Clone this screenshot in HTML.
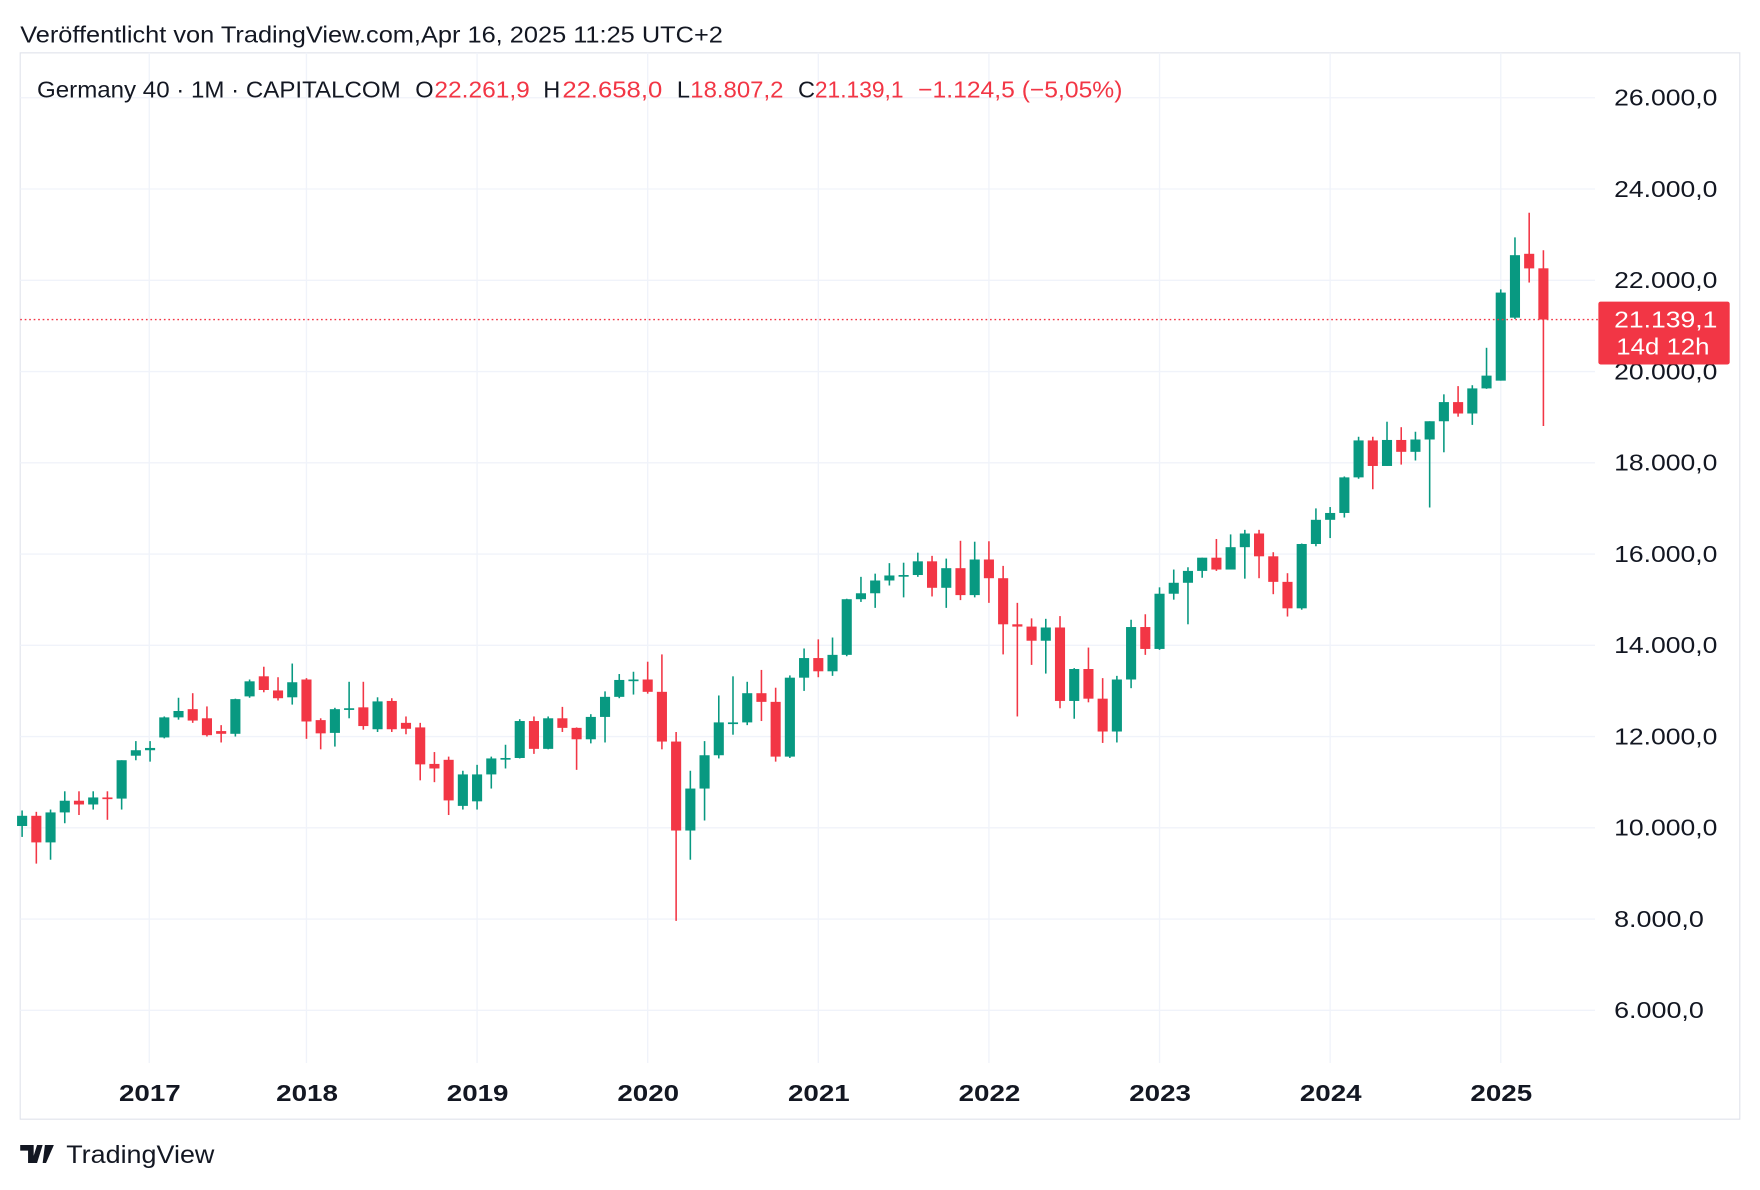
<!DOCTYPE html>
<html><head><meta charset="utf-8"><style>
html,body{margin:0;padding:0;background:#fff;}
svg{display:block;font-family:"Liberation Sans",sans-serif;}
</style></head><body>
<svg id="chart" width="1760" height="1190" viewBox="0 0 1568 1060" xmlns="http://www.w3.org/2000/svg">
<rect x="0" y="0" width="1568" height="1060" fill="#fff"/>
<text x="18" y="38" font-size="21" fill="#131722" textLength="626" lengthAdjust="spacingAndGlyphs">Veröffentlicht von TradingView.com,Apr 16, 2025 11:25 UTC+2</text>
<rect x="18" y="47" width="1532" height="950" fill="none" stroke="#e0e3eb" stroke-width="1"/>
<g id="grid"></g>
<g id="candles"></g>
<g id="yaxis"></g>
<g id="xaxis"></g>
<g font-size="21">
<text x="33" y="87" fill="#131722" textLength="324" lengthAdjust="spacingAndGlyphs">Germany 40 · 1M · CAPITALCOM</text>
<text x="370" y="87" fill="#131722">O</text>
<text x="387" y="87" fill="#f23645" textLength="85" lengthAdjust="spacingAndGlyphs">22.261,9</text>
<text x="484" y="87" fill="#131722">H</text>
<text x="501" y="87" fill="#f23645" textLength="89" lengthAdjust="spacingAndGlyphs">22.658,0</text>
<text x="603" y="87" fill="#131722">L</text>
<text x="615" y="87" fill="#f23645" textLength="83" lengthAdjust="spacingAndGlyphs">18.807,2</text>
<text x="711" y="87" fill="#131722">C</text>
<text x="726" y="87" fill="#f23645" textLength="79" lengthAdjust="spacingAndGlyphs">21.139,1</text>
<text x="818" y="87" fill="#f23645" textLength="182" lengthAdjust="spacingAndGlyphs">−1.124,5 (−5,05%)</text>
</g>
<g>
<path d="M18 1020h12v16h-5v-11h-7z M33 1020h5l-5 16h-5z M40 1020h8l-7 16h-3z" fill="#131722"/>
<text x="59" y="1036" font-size="22" fill="#131722" textLength="132" lengthAdjust="spacingAndGlyphs">TradingView</text>
</g>
</svg>
<script>
const startYear = 2016, startMonth = 4; // May 2016 (0-based month)
const opens  = [10039,10263,9680,10337,10593,10511,10665,10640, 11580,11700,11980,12420,12600,12400,12120,12060,12880,13320,13010,12860, 13250,12360,12080,12600,12640,12160,12780,12300,12200,11400,11490,10480, 10580,11170,11520,11530,12340,11730,12400,12190,11940,12430,12870,13240, 13250,12980,11890,9940,10860,11590,12310,12310,12950,12760,11560,13290, 13720,13430,13790,15010,15140,15420,15530,15540,15840,15260,15690,15100, 15880,15470,14460,14410,14100,14390,12780,13480,12830,12110,13250,14400, 13920,15130,15370,15630,15920,15660,16150,16450,15950,15390,14810,16220, 16750,16900,17680,18490,17930,18500,18240,18510,18910,19330,19080,19630, 19800,21180,22580,22261.9];
const highs  = [10380,10350,10400,10800,10800,10800,10800,11480, 11900,11900,12440,12850,12950,12660,12250,12830,13250,13530,13300,13600, 13280,12400,12630,13200,13200,12860,12840,12440,12300,11660,11560,11250, 11380,11560,11820,12380,12440,12440,12650,12200,12490,12990,13370,13420, 13640,13800,12100,11250,11900,12900,13320,13200,13460,13070,13340,13930, 14130,14170,15020,15500,15570,15800,15810,16030,15960,15900,16290,16270, 16280,15740,14930,14590,14580,14640,13500,13950,13280,13330,14560,14680, 15270,15660,15710,15920,16330,16430,16530,16530,16040,15580,16230,17000, 17030,17700,18570,18570,18900,18780,18680,18910,19500,19680,19700,20520, 21800,22940,23480,22658];
const lows   = [9800,9215,9300,10100,10280,10400,10175,10400, 11480,11450,11960,12370,12300,12000,11870,12000,12850,12970,12790,12700, 11950,11720,11780,12400,12150,12100,12100,12050,11040,11000,10280,10400, 10400,10860,11300,11520,11620,11720,12100,11270,11850,11870,12840,12920, 12940,11720,7960,9300,10160,11520,12040,12250,12340,11450,11530,13000, 13300,13330,13760,14950,14820,15310,15050,15500,15070,14820,14990,15050, 14930,13800,12440,13570,13380,12620,12390,12750,11860,11870,13060,13790, 13900,15000,14460,15480,15630,15700,15460,15470,15120,14630,14780,16170, 16350,16800,17650,17420,17930,17960,18050,17020,18230,19010,18830,19620, 19800,21150,21950,18807.2];
const closes = [10263,9680,10337,10593,10511,10665,10640,11481, 11700,11750,12420,12560,12350,12030,12060,12820,13210,13020,12840,13190, 12330,12070,12600,12620,12230,12770,12160,12170,11390,11300,10600,11170, 11170,11520,11530,12340,11730,12400,12190,11940,12430,12870,13240,13250, 12980,11890,9940,10860,11590,12310,12310,12950,12760,11560,13290,13720, 13430,13790,15010,15140,15420,15530,15540,15840,15260,15690,15100,15880, 15470,14460,14410,14100,14390,12780,13480,12830,12110,13250,14400,13920, 15130,15370,15630,15920,15660,16150,16450,15950,15390,14810,16220,16750, 16900,17680,18490,17930,18500,18240,18510,18910,19330,19080,19630,19910, 21730,22550,22260,21139.1];
const priceTicks = [6000,8000,10000,12000,14000,16000,18000,20000,22000,24000,26000];
const priceTickLabels = ["6.000,0","8.000,0","10.000,0","12.000,0","14.000,0","16.000,0","18.000,0","20.000,0","22.000,0","24.000,0","26.000,0"];
const yearLabels = ["2017","2018","2019","2020","2021","2022","2023","2024","2025"];
const lastPrice = 21139.1;
const lastPriceLabel = "21.139,1";
const countdownLabel = "14d 12h";

const NS = "http://www.w3.org/2000/svg";
const PLOT_L = 18, PLOT_R = 1421, PLOT_T = 47, PLOT_B = 947;
function yScale(v){ return 87 + (26000 - v) * (813/20000); }
function xIndex(i){ return 19.7 + i * (152/12); }
function xYear(label){ const idx = (parseInt(label) - startYear) * 12 - startMonth; return xIndex(idx); }
function mk(tag, attrs, parent){ const e = document.createElementNS(NS, tag); for (const k in attrs) e.setAttribute(k, attrs[k]); parent.appendChild(e); return e; }

const grid = document.getElementById('grid');
const yaxis = document.getElementById('yaxis');
const xaxis = document.getElementById('xaxis');
const cg = document.getElementById('candles');

priceTicks.forEach((v, k) => {
  const y = yScale(v);
  const gl = mk('line', {x1: PLOT_L, x2: PLOT_R, y1: y, y2: y, stroke: '#f0f3fa', 'stroke-width': 1.2}, grid);
  
  
  const len = priceTickLabels[k].length >= 8 ? 92 : 80;
  const t = mk('text', {x: 1438, y: y + 7, 'font-size': 21, fill: '#131722', textLength: len, lengthAdjust: 'spacingAndGlyphs'}, yaxis);
  t.textContent = priceTickLabels[k];
  
  
});
yearLabels.forEach((lab, k) => {
  let x = xYear(lab);
  if (k === 0) x = 133;
  const gl = mk('line', {x1: x, x2: x, y1: PLOT_T, y2: PLOT_B, stroke: '#f0f3fa', 'stroke-width': 1.2}, grid);
  
  
  const t = mk('text', {x: x - 27, y: 981, 'font-size': 21, 'font-weight': 'bold', fill: '#131722', textLength: 55, lengthAdjust: 'spacingAndGlyphs'}, xaxis);
  t.textContent = lab;
  
  
});

for (let i = 0; i < closes.length; i++) {
  const up = closes[i] >= opens[i];
  const col = up ? '#089981' : '#f23645';
  const x = xIndex(i);
  const g = mk('g', {}, cg);
  
  
  mk('line', {x1: x, x2: x, y1: yScale(highs[i]), y2: yScale(lows[i]), stroke: col, 'stroke-width': 1.4}, g);
  const top = yScale(Math.max(opens[i], closes[i]));
  const bot = yScale(Math.min(opens[i], closes[i]));
  mk('rect', {x: x - 4.5, y: top, width: 9, height: Math.max(1.5, bot - top), fill: col}, g);
}

const ly = yScale(lastPrice);
const pl = mk('line', {x1: PLOT_L, x2: 1424, y1: ly, y2: ly, stroke: '#f23645', 'stroke-width': 1.2, 'stroke-dasharray': '1.5 2.5'}, cg);


const box = mk('g', {}, yaxis);


mk('rect', {x: 1424, y: ly - 16, width: 117, height: 56, rx: 2, fill: '#f23645'}, box);
const t1 = mk('text', {x: 1438, y: ly + 7, 'font-size': 21, fill: '#fff', textLength: 92, lengthAdjust: 'spacingAndGlyphs'}, box);
t1.textContent = lastPriceLabel;
const t2 = mk('text', {x: 1440, y: ly + 31, 'font-size': 21, fill: '#fff', textLength: 83, lengthAdjust: 'spacingAndGlyphs'}, box);
t2.textContent = countdownLabel;
</script>
</body></html>
